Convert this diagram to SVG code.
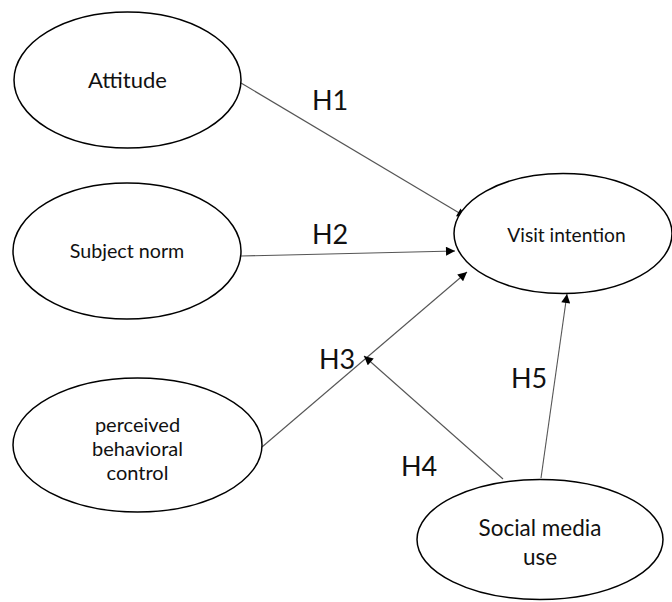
<svg xmlns="http://www.w3.org/2000/svg" width="672" height="602" viewBox="0 0 672 602">
<style>
.node ellipse{fill:#fff;stroke:#000;stroke-width:1.5}
.node text{font-family:Lato,"Open Sans","Liberation Sans",sans-serif;fill:#111;text-anchor:middle}
.conn line{stroke:#555;stroke-width:1.1;marker-end:url(#ah)}
.lbl{font-family:Lato,"Open Sans","Liberation Sans",sans-serif;font-size:27px;fill:#111}
</style>
<defs>
<marker id="ah" viewBox="0 0 10 10" refX="10" refY="5" markerWidth="10" markerHeight="9" markerUnits="userSpaceOnUse" orient="auto">
<path d="M0,0 L10,5 L0,10 z" fill="#000"/>
</marker>
</defs>
<rect width="672" height="602" fill="#fff"/>
<g id="connectors" class="conn">
<line x1="241" y1="83" x2="466" y2="217"/>
<line x1="241" y1="256" x2="455" y2="251"/>
<line x1="262" y1="447" x2="467" y2="272"/>
<line x1="503" y1="479" x2="364" y2="356"/>
<line x1="541" y1="478" x2="567" y2="294"/>
</g>
<g id="attitude" class="node">
<ellipse cx="127.5" cy="80" rx="113.5" ry="68"/>
<text x="127.5" y="88" font-size="22">Attitude</text>
</g>
<g id="subject-norm" class="node">
<ellipse cx="127" cy="251" rx="114" ry="68"/>
<text x="127" y="258" font-size="19.7">Subject norm</text>
</g>
<g id="perceived-behavioral-control" class="node">
<ellipse cx="137.5" cy="445" rx="124.5" ry="67"/>
<text x="137.5" y="432" font-size="20">perceived</text>
<text x="137.5" y="456" font-size="20">behavioral</text>
<text x="137.5" y="480" font-size="20">control</text>
</g>
<g id="visit-intention" class="node">
<ellipse cx="563" cy="233.5" rx="109" ry="60"/>
<text x="566.5" y="242" font-size="19.2">Visit intention</text>
</g>
<g id="social-media-use" class="node">
<ellipse cx="540" cy="539.5" rx="123" ry="60"/>
<text x="540" y="536" font-size="22.5">Social media</text>
<text x="540" y="565" font-size="22.5">use</text>
</g>
<g id="labels">
<text class="lbl" x="312" y="110">H1</text>
<text class="lbl" x="312" y="244">H2</text>
<text class="lbl" x="319" y="369">H3</text>
<text class="lbl" x="401" y="476">H4</text>
<text class="lbl" x="511" y="388">H5</text>
</g>
</svg>
